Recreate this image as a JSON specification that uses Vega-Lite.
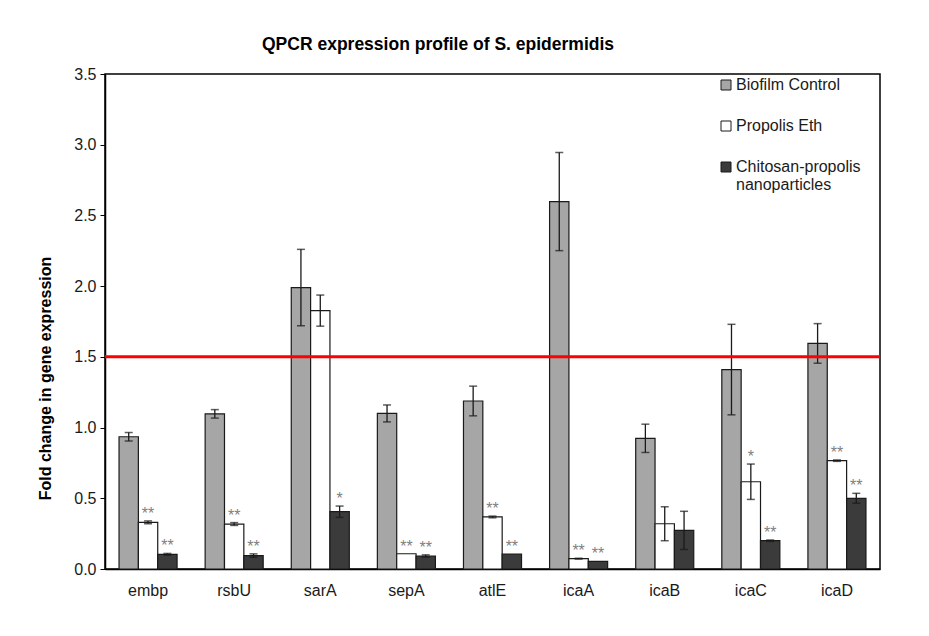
{
  "$schema": "https://vega.github.io/schema/vega-lite/v6.json",
  "width": 775,
  "height": 495,
  "autosize": {"type": "none"},
  "padding": {"left": 105, "top": 74, "right": 49, "bottom": 67},
  "background": "white",
  "title": {
    "text": "QPCR expression profile of S. epidermidis",
    "anchor": "start",
    "frame": "group",
    "dx": 157,
    "offset": 13,
    "fontSize": 17.5,
    "fontWeight": "bold",
    "font": "Liberation Sans",
    "color": "#000000"
  },
  "config": {
    "font": "Liberation Sans",
    "view": {"stroke": "#000000", "strokeWidth": 1.5},
    "axis": {"grid": false}
  },
  "data": {
    "values": [
      {"gene": "embp", "treatment": "Biofilm Control", "value": 0.935, "err": 0.03, "sig": ""},
      {"gene": "embp", "treatment": "Propolis Eth", "value": 0.33, "err": 0.01, "sig": "**"},
      {"gene": "embp", "treatment": "Chitosan-propolis nanoparticles", "value": 0.104, "err": 0.006, "sig": "**"},
      {"gene": "rsbU", "treatment": "Biofilm Control", "value": 1.097, "err": 0.03, "sig": ""},
      {"gene": "rsbU", "treatment": "Propolis Eth", "value": 0.318, "err": 0.01, "sig": "**"},
      {"gene": "rsbU", "treatment": "Chitosan-propolis nanoparticles", "value": 0.095, "err": 0.012, "sig": "**"},
      {"gene": "sarA", "treatment": "Biofilm Control", "value": 1.99, "err": 0.27, "sig": ""},
      {"gene": "sarA", "treatment": "Propolis Eth", "value": 1.827, "err": 0.11, "sig": ""},
      {"gene": "sarA", "treatment": "Chitosan-propolis nanoparticles", "value": 0.405, "err": 0.04, "sig": "*"},
      {"gene": "sepA", "treatment": "Biofilm Control", "value": 1.1, "err": 0.06, "sig": ""},
      {"gene": "sepA", "treatment": "Propolis Eth", "value": 0.108, "err": 0.0, "sig": "**"},
      {"gene": "sepA", "treatment": "Chitosan-propolis nanoparticles", "value": 0.092, "err": 0.008, "sig": "**"},
      {"gene": "atlE", "treatment": "Biofilm Control", "value": 1.188, "err": 0.105, "sig": ""},
      {"gene": "atlE", "treatment": "Propolis Eth", "value": 0.368, "err": 0.006, "sig": "**"},
      {"gene": "atlE", "treatment": "Chitosan-propolis nanoparticles", "value": 0.106, "err": 0.0, "sig": "**"},
      {"gene": "icaA", "treatment": "Biofilm Control", "value": 2.598, "err": 0.347, "sig": ""},
      {"gene": "icaA", "treatment": "Propolis Eth", "value": 0.073, "err": 0.003, "sig": "**"},
      {"gene": "icaA", "treatment": "Chitosan-propolis nanoparticles", "value": 0.054, "err": 0.0, "sig": "**"},
      {"gene": "icaB", "treatment": "Biofilm Control", "value": 0.924, "err": 0.1, "sig": ""},
      {"gene": "icaB", "treatment": "Propolis Eth", "value": 0.32, "err": 0.12, "sig": ""},
      {"gene": "icaB", "treatment": "Chitosan-propolis nanoparticles", "value": 0.273, "err": 0.135, "sig": ""},
      {"gene": "icaC", "treatment": "Biofilm Control", "value": 1.41, "err": 0.32, "sig": ""},
      {"gene": "icaC", "treatment": "Propolis Eth", "value": 0.617, "err": 0.125, "sig": "*"},
      {"gene": "icaC", "treatment": "Chitosan-propolis nanoparticles", "value": 0.2, "err": 0.005, "sig": "**"},
      {"gene": "icaD", "treatment": "Biofilm Control", "value": 1.595, "err": 0.14, "sig": ""},
      {"gene": "icaD", "treatment": "Propolis Eth", "value": 0.766, "err": 0.005, "sig": "**"},
      {"gene": "icaD", "treatment": "Chitosan-propolis nanoparticles", "value": 0.5, "err": 0.035, "sig": "**"}
    ]
  },
  "layer": [
    {
      "transform": [
        {"calculate": "datum.value + datum.err", "as": "hi"},
        {"calculate": "datum.value - datum.err", "as": "lo"}
      ],
      "encoding": {
        "x": {
          "field": "gene",
          "type": "nominal",
          "scale": {
            "domain": ["embp", "rsbU", "sarA", "sepA", "atlE", "icaA", "icaB", "icaC", "icaD"],
            "paddingInner": 0.326,
            "paddingOuter": 0.163
          },
          "axis": {
            "title": null,
            "labelAngle": 0,
            "labelFontSize": 16,
            "labelColor": "#1a1a1a",
            "labelPadding": 13,
            "ticks": false,
            "domainColor": "#000000",
            "domainWidth": 1.5
          }
        },
        "xOffset": {
          "field": "treatment",
          "type": "nominal",
          "scale": {"domain": ["Biofilm Control", "Propolis Eth", "Chitosan-propolis nanoparticles"], "paddingInner": 0, "paddingOuter": 0}
        }
      },
      "layer": [
        {
          "mark": {"type": "bar", "stroke": "#1a1a1a", "strokeWidth": 1.2},
          "encoding": {
            "y": {
              "field": "value",
              "type": "quantitative",
              "scale": {"domain": [0, 3.5], "nice": false},
              "axis": {
                "values": [0, 0.5, 1, 1.5, 2, 2.5, 3, 3.5],
                "format": ".1f",
                "title": "Fold change in gene expression",
                "titleFontSize": 16,
                "titleFontWeight": "bold",
                "titleColor": "#000000",
                "titleAngle": -90,
                "titleX": -60,
                "titleY": 304,
                "titleAlign": "center",
                "titleBaseline": "middle",
                "labelFontSize": 16,
                "labelColor": "#1a1a1a",
                "labelPadding": 4,
                "tickSize": 5,
                "tickColor": "#000000",
                "domainColor": "#000000",
                "domainWidth": 1.5
              }
            },
            "fill": {
              "field": "treatment",
              "type": "nominal",
              "scale": {
                "domain": ["Biofilm Control", "Propolis Eth", "Chitosan-propolis nanoparticles"],
                "range": ["#a6a6a6", "#ffffff", "#3b3b3b"]
              },
              "legend": {
                "title": null,
                "orient": "none",
                "legendX": 613,
                "legendY": 3,
                "symbolType": "square",
                "symbolSize": 100,
                "symbolStrokeColor": "#1a1a1a",
                "symbolStrokeWidth": 1,
                "labelFontSize": 16,
                "labelColor": "#1a1a1a",
                "labelOffset": 2,
                "rowPadding": 25,
                "labelLimit": 300,
                "labelExpr": "datum.label == 'Chitosan-propolis nanoparticles' ? ['Chitosan-propolis', 'nanoparticles'] : datum.label"
              }
            }
          }
        },
        {
          "transform": [{"filter": "datum.err > 0"}],
          "mark": {"type": "rule", "color": "#1a1a1a", "strokeWidth": 1.3},
          "encoding": {
            "y": {"field": "lo", "type": "quantitative"},
            "y2": {"field": "hi"}
          }
        },
        {
          "transform": [{"filter": "datum.err > 0"}],
          "mark": {"type": "tick", "color": "#1a1a1a", "thickness": 1.5, "size": 8, "orient": "horizontal"},
          "encoding": {"y": {"field": "hi", "type": "quantitative"}}
        },
        {
          "transform": [{"filter": "datum.err > 0"}],
          "mark": {"type": "tick", "color": "#1a1a1a", "thickness": 1.5, "size": 8, "orient": "horizontal"},
          "encoding": {"y": {"field": "lo", "type": "quantitative"}}
        },
        {
          "transform": [{"filter": "datum.sig != ''"}],
          "mark": {"type": "text", "color": "#7f7f7f", "fontSize": 16, "baseline": "alphabetic", "dy": -2},
          "encoding": {
            "y": {"field": "hi", "type": "quantitative"},
            "text": {"field": "sig"}
          }
        }
      ]
    },
    {
      "data": {"values": [{"threshold": 1.5}]},
      "mark": {"type": "rule", "color": "#ff0000", "strokeWidth": 3},
      "encoding": {"y": {"field": "threshold", "type": "quantitative"}}
    }
  ]
}
